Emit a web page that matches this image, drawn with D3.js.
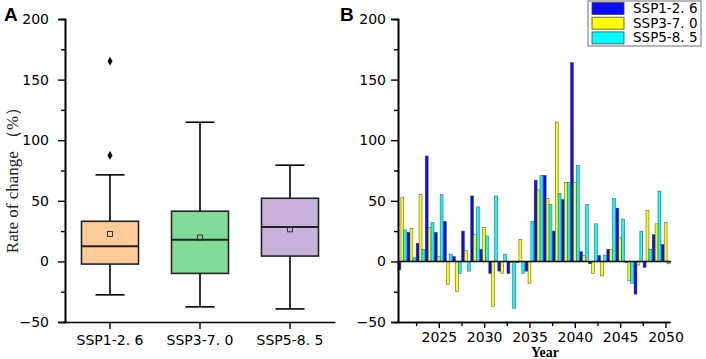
<!DOCTYPE html>
<html>
<head>
<meta charset="utf-8">
<script src="https://cdn.jsdelivr.net/npm/d3@7"></script>
<style>
  body { margin: 0; background: white; }
  svg text { font-family: "DejaVu Sans", sans-serif; }
</style>
</head>
<body>
<div id="container"></div>
<script>
// scenarios + box statistics
let scenarios = ["SSP1-2. 6", "SSP3-7. 0", "SSP5-8. 5"];
let whiskerLow = [-27.6, -37.5, -39.2];
let q1 = [-2.2, -9.9, 4.4];
let medians = [12.4, 17.9, 28.4];
let q3 = [33.1, 41.4, 52.1];
let whiskerHigh = [71.4, 114.8, 79.4];
let means = [22.6, 19.6, 26.5];
let outliers = [[165.2, 87.4], [], []];
let boxColors = ["#ffcc99", "#80db99", "#c8b1da"];

// panel B yearly values
let years = [2021, 2022, 2023, 2024, 2025, 2026, 2027, 2028, 2029, 2030,
             2031, 2032, 2033, 2034, 2035, 2036, 2037, 2038, 2039, 2040,
             2041, 2042, 2043, 2044, 2045, 2046, 2047, 2048, 2049, 2050];
let ssp126 = [-7, 24, 15, 87, 24, 33, 4, 25, 54, 10, -10, -8, -10, -1, -8,
              67, 71, 25, 51, 164, 8, -2, 5, 10, 44, -1, -27, -5, 22, 14];
let ssp370 = [53, 27, 55, 28, 4, -19, -25, 9, 22, 28, -37, -10, -1, 18, -18,
              59, 52, 115, 65, 65, 5, -10, -12, 10, 20, -16, -3, 42, 31, 32];
let ssp585 = [26, 3, 10, 32, 55, 6, -10, -8, 45, 21, 54, 6, -39, -10, 33,
              71, 47, 56, 65, 79, 47, 31, 5, 52, 35, -18, 25, 10, 58, -2];
let seriesNames = ["SSP1-2. 6", "SSP3-7. 0", "SSP5-8. 5"];
let barColors = ["#0a0aff", "#ffff00", "#00ffff"];

let yTicks = [-50, 0, 50, 100, 150, 200];
let yMinor = [-25, 25, 75, 125, 175];
let xTicks = [2025, 2030, 2035, 2040, 2045, 2050];
let xMinor = [2022.5, 2027.5, 2032.5, 2037.5, 2042.5, 2047.5];

let w = 706;
let h = 359;

let svg = d3.select("#container")
  .append("svg")
    .attr("width", w)
    .attr("height", h)
    .style("background-color", "white");

function styleAxis(g){
    g.select(".domain").attr("stroke", "black").attr("stroke-width", 1.6);
    g.selectAll(".tick line").attr("stroke", "black").attr("stroke-width", 1.4);
    g.selectAll(".tick text").attr("fill", "black").style("font-size", "14px");
}

// ---------- panel A ----------
let xA = d3.scaleBand().domain(scenarios).range([65, 335]);
let yA = d3.scaleLinear().domain([-50, 200]).range([322, 19]);

let gA = svg.append("g");

gA.append("g")
    .attr("transform", "translate(65,0)")
    .call(d3.axisLeft(yA).tickValues(yMinor).tickSize(4).tickFormat(""))
    .call(styleAxis);
gA.append("g")
    .attr("transform", "translate(65,0)")
    .call(d3.axisLeft(yA).tickValues(yTicks).tickSize(7).tickPadding(9).tickFormat(d => d < 0 ? "\u2212" + (-d) : d))
    .call(styleAxis);
gA.append("g")
    .attr("transform", "translate(0,322)")
    .call(d3.axisBottom(xA).tickSize(7).tickPadding(6).tickSizeOuter(0))
    .call(styleAxis);

let boxW = 57;
let capW = 29;
let boxes = gA.selectAll(".box").data(scenarios).enter()
  .append("g")
    .classed("box", true)
    .attr("transform", d => "translate(" + (xA(d) + xA.bandwidth() / 2) + ",0)");

boxes.append("line")
    .attr("x1", 0).attr("x2", 0)
    .attr("y1", (d, i) => yA(whiskerHigh[i]))
    .attr("y2", (d, i) => yA(whiskerLow[i]))
    .attr("stroke", "black").attr("stroke-width", 1.6);
boxes.append("line")
    .attr("x1", -capW / 2).attr("x2", capW / 2)
    .attr("y1", (d, i) => yA(whiskerHigh[i])).attr("y2", (d, i) => yA(whiskerHigh[i]))
    .attr("stroke", "black").attr("stroke-width", 1.6);
boxes.append("line")
    .attr("x1", -capW / 2).attr("x2", capW / 2)
    .attr("y1", (d, i) => yA(whiskerLow[i])).attr("y2", (d, i) => yA(whiskerLow[i]))
    .attr("stroke", "black").attr("stroke-width", 1.6);
boxes.append("rect")
    .attr("x", -boxW / 2)
    .attr("width", boxW)
    .attr("y", (d, i) => yA(q3[i]))
    .attr("height", (d, i) => yA(q1[i]) - yA(q3[i]))
    .attr("fill", (d, i) => boxColors[i])
    .attr("stroke", "#222").attr("stroke-width", 1.6);
boxes.append("line")
    .attr("x1", -boxW / 2).attr("x2", boxW / 2)
    .attr("y1", (d, i) => yA(medians[i])).attr("y2", (d, i) => yA(medians[i]))
    .attr("stroke", "#222").attr("stroke-width", 2);
boxes.append("rect")
    .attr("x", -2.5).attr("width", 5)
    .attr("y", (d, i) => yA(means[i]) - 2.5).attr("height", 5)
    .attr("fill", "none")
    .attr("stroke", "#333").attr("stroke-width", 1);
boxes.each(function(d, i){
    d3.select(this).selectAll(".outlier").data(outliers[i]).enter()
      .append("path")
        .classed("outlier", true)
        .attr("d", d3.symbol(d3.symbolDiamond, 22))
        .attr("transform", v => "translate(0," + yA(v) + ")")
        .attr("fill", "black");
});

gA.append("text")
    .text("Rate of change \uff08%\uff09")
    .attr("transform", "translate(18,176) rotate(-90)")
    .attr("text-anchor", "middle")
    .style("font-family", "'Liberation Serif', serif")
    .style("font-size", "17px")
    .attr("fill", "#222");

gA.append("text")
    .text("A")
    .attr("x", 4).attr("y", 21)
    .style("font-family", "'Liberation Sans', Arial, sans-serif")
    .style("font-weight", "bold")
    .style("font-size", "19px");

// ---------- panel B ----------
let xB = d3.scaleLinear().domain([2020.5, 2050.5]).range([398, 670]);
let yB = d3.scaleLinear().domain([-50, 200]).range([322, 19]);
let bandB = d3.scaleBand().domain(years).range([398, 670]).paddingInner(0.04);
let subB = d3.scaleBand().domain([0, 1, 2]).range([0, bandB.bandwidth()]);

let gB = svg.append("g");

let allSeries = [ssp126, ssp370, ssp585];
allSeries.forEach(function(vals, s){
    gB.selectAll(".bar" + s).data(vals).enter()
      .append("rect")
        .attr("class", "bar" + s)
        .attr("x", (d, i) => bandB(years[i]) + subB(s))
        .attr("width", subB.bandwidth())
        .attr("y", d => yB(Math.max(0, d)))
        .attr("height", d => Math.abs(yB(d) - yB(0)))
        .attr("fill", barColors[s])
        .attr("stroke", "#444")
        .attr("stroke-width", 0.5);
});

gB.append("line")
    .attr("x1", 398).attr("x2", 671)
    .attr("y1", yB(0)).attr("y2", yB(0))
    .attr("stroke", "black").attr("stroke-width", 1.5);

gB.append("g")
    .attr("transform", "translate(398,0)")
    .call(d3.axisLeft(yB).tickValues(yMinor).tickSize(4).tickFormat(""))
    .call(styleAxis);
gB.append("g")
    .attr("transform", "translate(398,0)")
    .call(d3.axisLeft(yB).tickValues(yTicks).tickSize(7).tickPadding(5).tickFormat(d => d < 0 ? "\u2212" + (-d) : d))
    .call(styleAxis);
gB.append("g")
    .attr("transform", "translate(0,322)")
    .call(d3.axisBottom(xB).tickValues(xMinor).tickSize(4).tickFormat("").tickSizeOuter(0))
    .call(styleAxis);
gB.append("g")
    .attr("transform", "translate(0,322)")
    .call(d3.axisBottom(xB).tickValues(xTicks).tickSize(6).tickPadding(4).tickFormat(d3.format("d")).tickSizeOuter(0))
    .call(styleAxis);

gB.append("text")
    .text("Year")
    .attr("x", 545).attr("y", 357)
    .attr("text-anchor", "middle")
    .style("font-family", "'Liberation Serif', serif")
    .style("font-weight", "bold")
    .style("font-size", "14px");

gB.append("text")
    .text("B")
    .attr("x", 340).attr("y", 21)
    .style("font-family", "'Liberation Sans', Arial, sans-serif")
    .style("font-weight", "bold")
    .style("font-size", "19px");

// legend
let legend = gB.append("g").attr("transform", "translate(588,1)");
legend.append("rect")
    .attr("width", 113).attr("height", 45)
    .attr("fill", "white")
    .attr("stroke", "#888").attr("stroke-width", 1.2);
let rows = legend.selectAll(".row").data(seriesNames).enter()
  .append("g")
    .attr("transform", (d, i) => "translate(0," + (i * 14.7) + ")");
rows.append("rect")
    .attr("x", 4).attr("y", 1.5)
    .attr("width", 32).attr("height", 12)
    .attr("fill", (d, i) => barColors[i])
    .attr("stroke", "#444").attr("stroke-width", 0.8);
rows.append("text")
    .text(d => d)
    .attr("x", 45).attr("y", 12)
    .style("font-size", "13.5px");
</script>
</body>
</html>
